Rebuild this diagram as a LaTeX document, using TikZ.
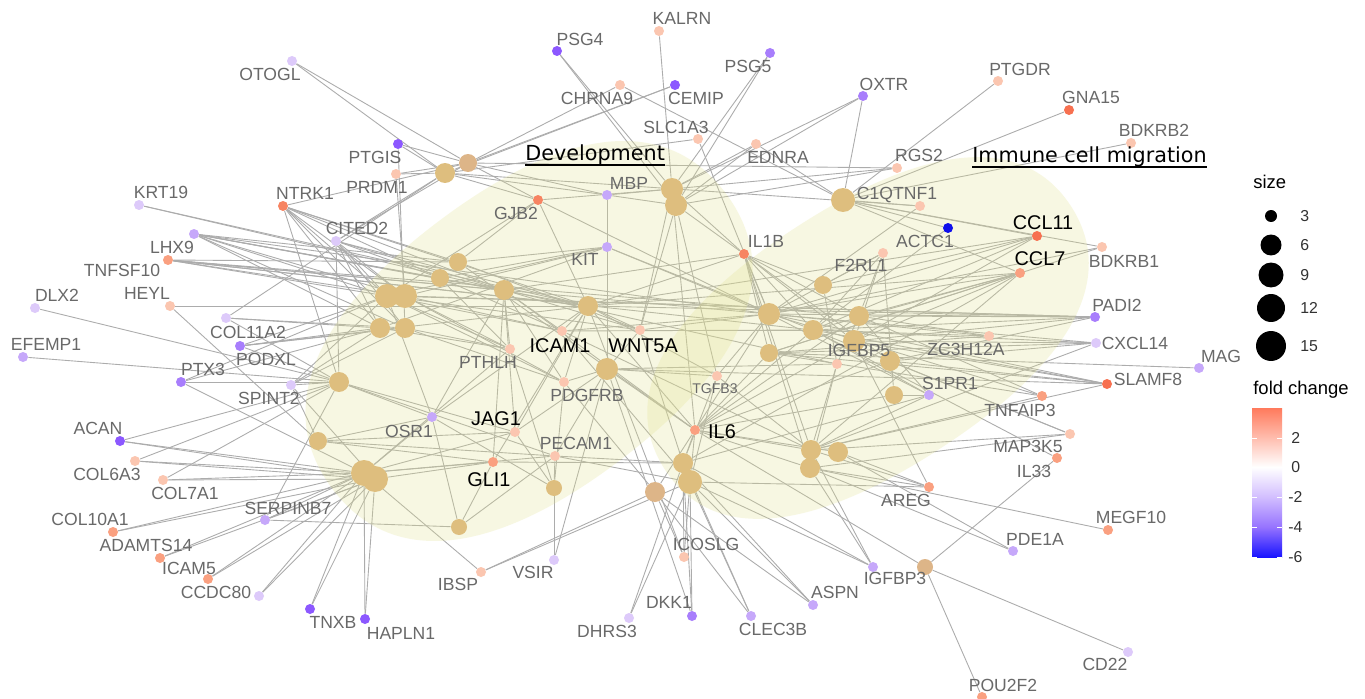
\documentclass[tikz,border=0pt]{standalone}
\usepackage{fontspec}
\setmainfont{Liberation Sans}
\newfontfamily\dejavu{DejaVu Sans}
\pgfdeclarelayer{bglayer}
\pgfdeclarelayer{edgelayer}
\pgfdeclarelayer{regionlayer}
\pgfsetlayers{bglayer,edgelayer,regionlayer,main}
\definecolor{labgray}{RGB}{105,105,105}
\definecolor{edgec}{RGB}{172,172,172}
\definecolor{hubc}{RGB}{222,190,126}
\definecolor{hubd}{RGB}{221,181,136}
\definecolor{regc}{RGB}{225,225,140}
\definecolor{pa}{RGB}{251,198,176}
\definecolor{pb}{RGB}{250,160,128}
\definecolor{pc}{RGB}{247,132,98}
\definecolor{pd}{RGB}{247,112,80}
\definecolor{na}{RGB}{221,202,250}
\definecolor{nb}{RGB}{198,168,250}
\definecolor{nc}{RGB}{168,126,252}
\definecolor{nd}{RGB}{140,88,255}
\definecolor{nf}{RGB}{15,15,235}
\definecolor{barhi}{RGB}{255,122,92}
\definecolor{barm}{RGB}{210,190,255}
\definecolor{barl}{RGB}{150,115,255}
\definecolor{barb}{RGB}{25,20,255}
\definecolor{legtxt}{RGB}{50,50,50}
\newcommand\gn[6]{\node[gnode,fill=#4] (#1) at (#2,#3) {};\node[#6] (l#1) at #5 {#1};}
\newcommand\hb[5]{\node[hub,fill=#5,minimum size=#4cm] (#1) at (#2,#3) {};}
\newcommand\lk[2]{\foreach \hh in {#2} {\draw[edge] (#1) -- (\hh);}}
\newcommand\blob[5]{\fill[region,shift={(#1,#2)},rotate=#3] (#4,0) .. controls (#4,0.65*#5) and (0.65*#4,#5) .. (0,#5) .. controls (-0.65*#4,#5) and (-#4,0.65*#5) .. (-#4,0) .. controls (-#4,-0.65*#5) and (-0.65*#4,-#5) .. (0,-#5) .. controls (0.65*#4,-#5) and (#4,-0.65*#5) .. (#4,0) -- cycle;}
\begin{document}
\begin{tikzpicture}[x=0.02cm,y=-0.02cm,
  gnode/.style={circle,inner sep=0pt,minimum size=0.2cm,draw=none},
  hub/.style={circle,inner sep=0pt,draw=none},
  lab/.style={font=\fontsize{10}{12}\selectfont,text=labgray,inner sep=0pt,text height=7.2pt,text depth=0pt,anchor=center},
  slab/.style={lab,font=\fontsize{8}{10}\selectfont,text height=5.8pt},
  blab/.style={lab,font=\fontsize{11.3}{13}\selectfont,text=black,text height=8.1pt},
  edge/.style={draw=edgec,line width=0.5pt},
  region/.style={fill=regc,fill opacity=0.25,draw=none},
  title/.style={font=\dejavu\fontsize{11.8}{14}\selectfont,text=black,inner sep=0pt,anchor=base west},
  legt/.style={font=\fontsize{10.5}{12}\selectfont,text=black,inner sep=0pt,anchor=base west},
  legn/.style={font=\fontsize{9}{11}\selectfont,text=legtxt,inner sep=0pt,anchor=west,text height=6.5pt,text depth=0pt}]
\useasboundingbox (0,0) rectangle (1365,699);
\begin{pgfonlayer}{bglayer}
\fill[white] (0,0) rectangle (1365,699);
\end{pgfonlayer}
% hubs
\hb{h1}{468}{163}{0.36}{hubd}
\hb{h2}{445}{173}{0.40}{hubc}
\hb{h3}{672}{189}{0.44}{hubc}
\hb{h4}{676}{205}{0.44}{hubc}
\hb{h5}{843}{200}{0.48}{hubc}
\hb{h6}{458}{262}{0.36}{hubc}
\hb{h7}{440}{278}{0.36}{hubc}
\hb{h8}{387}{296}{0.48}{hubc}
\hb{h9}{405}{296}{0.48}{hubc}
\hb{h10}{504}{290}{0.40}{hubc}
\hb{h11}{380}{328}{0.40}{hubc}
\hb{h12}{405}{328}{0.40}{hubc}
\hb{h13}{588}{306}{0.40}{hubc}
\hb{h14}{339}{382}{0.40}{hubc}
\hb{h15}{607}{369}{0.44}{hubc}
\hb{h16}{318}{441}{0.36}{hubc}
\hb{h17}{364}{473}{0.52}{hubc}
\hb{h18}{375}{479}{0.52}{hubc}
\hb{h19}{459}{527}{0.32}{hubc}
\hb{h20}{554}{488}{0.32}{hubc}
\hb{h21}{655}{492}{0.40}{hubd}
\hb{h22}{683}{463}{0.40}{hubc}
\hb{h23}{690}{482}{0.48}{hubc}
\hb{h24}{811}{450}{0.40}{hubc}
\hb{h25}{810}{468}{0.40}{hubc}
\hb{h26}{838}{452}{0.40}{hubc}
\hb{h27}{769}{314}{0.44}{hubc}
\hb{h28}{813}{330}{0.40}{hubc}
\hb{h29}{769}{353}{0.36}{hubc}
\hb{h30}{823}{285}{0.36}{hubc}
\hb{h31}{859}{316}{0.40}{hubc}
\hb{h32}{854}{341}{0.44}{hubc}
\hb{h33}{890}{361}{0.40}{hubc}
\hb{h34}{894}{395}{0.36}{hubc}
\hb{h35}{925}{567}{0.32}{hubd}
% genes
\gn{OTOGL}{292}{61}{na}{(270,74)}{lab}
\gn{PSG4}{557}{51}{nd}{(580,39)}{lab}
\gn{KALRN}{659}{31}{pa}{(682,18)}{lab}
\gn{PSG5}{770}{53}{nc}{(748,66)}{lab}
\gn{CHRNA9}{620}{85}{pa}{(597,98)}{lab}
\gn{CEMIP}{675}{85}{nd}{(696,98)}{lab}
\gn{OXTR}{863}{96}{nc}{(884,84)}{lab}
\gn{PTGDR}{998}{81}{pa}{(1020,69)}{lab}
\gn{GNA15}{1069}{110}{pd}{(1091,97)}{lab}
\gn{BDKRB2}{1131}{143}{pa}{(1154,130)}{lab}
\gn{SLC1A3}{698}{139}{pa}{(676,127)}{lab}
\gn{EDNRA}{756}{144}{pa}{(778,157)}{lab}
\gn{RGS2}{897}{168}{pa}{(919,155)}{lab}
\gn{C1QTNF1}{920}{206}{pa}{(897,193)}{lab}
\gn{ACTC1}{948}{228}{nf}{(925,241)}{lab}
\gn{F2RL1}{883}{253}{pa}{(861,265)}{lab}
\gn{IL1B}{744}{254}{pc}{(766,241)}{lab}
\gn{CCL11}{1037}{236}{pd}{(1043,222)}{blab}
\gn{CCL7}{1020}{273}{pb}{(1040,258)}{blab}
\gn{BDKRB1}{1102}{247}{pa}{(1124,261)}{lab}
\gn{PADI2}{1095}{317}{nc}{(1117,305)}{lab}
\gn{CXCL14}{1096}{343}{na}{(1135,343)}{lab}
\gn{MAG}{1199}{368}{nb}{(1221,356)}{lab}
\gn{SLAMF8}{1107}{384}{pd}{(1148,379)}{lab}
\gn{TNFAIP3}{1042}{396}{pb}{(1020,410)}{lab}
\gn{MAP3K5}{1070}{434}{pa}{(1028,446)}{lab}
\gn{IL33}{1057}{458}{pb}{(1034,471)}{lab}
\gn{MEGF10}{1108}{530}{pb}{(1131,517)}{lab}
\gn{PDE1A}{1013}{551}{nb}{(1035,539)}{lab}
\gn{AREG}{929}{487}{pb}{(906,500)}{lab}
\gn{IGFBP3}{873}{567}{nb}{(895,578)}{lab}
\gn{CD22}{1128}{652}{na}{(1105,664)}{lab}
\gn{POU2F2}{982}{697}{pb}{(1003,685)}{lab}
\gn{ZC3H12A}{989}{336}{pa}{(966,349)}{lab}
\gn{S1PR1}{929}{395}{nb}{(950,383)}{lab}
\gn{IGFBP5}{837}{364}{pa}{(859,350)}{lab}
\gn{TGFB3}{717}{376}{pa}{(715,388)}{slab}
\gn{IL6}{695}{430}{pb}{(722,431)}{blab}
\gn{PDGFRB}{564}{382}{pa}{(587,395)}{lab}
\gn{PTHLH}{510}{349}{pa}{(488,362)}{lab}
\gn{ICAM1}{562}{331}{pa}{(560,345)}{blab}
\gn{WNT5A}{640}{330}{pa}{(643,345)}{blab}
\gn{GJB2}{538}{200}{pc}{(516,213)}{lab}
\gn{MBP}{607}{195}{nb}{(629,183)}{lab}
\gn{KIT}{607}{247}{nb}{(585,259)}{lab}
\gn{PRDM1}{396}{174}{pa}{(377,187)}{lab}
\gn{PTGIS}{398}{144}{nd}{(375,157)}{lab}
\gn{NTRK1}{283}{206}{pc}{(305,193)}{lab}
\gn{CITED2}{336}{241}{na}{(357,228)}{lab}
\gn{KRT19}{139}{205}{na}{(161,192)}{lab}
\gn{LHX9}{194}{234}{nb}{(172,247)}{lab}
\gn{TNFSF10}{168}{260}{pb}{(122,270)}{lab}
\gn{HEYL}{170}{306}{pa}{(147,293)}{lab}
\gn{DLX2}{35}{308}{na}{(57,295)}{lab}
\gn{COL11A2}{226}{318}{na}{(248,332)}{lab}
\gn{EFEMP1}{23}{357}{nb}{(46,344)}{lab}
\gn{PODXL}{240}{346}{nc}{(266,359)}{lab}
\gn{PTX3}{181}{382}{nc}{(203,369)}{lab}
\gn{SPINT2}{291}{385}{na}{(269,398)}{lab}
\gn{ACAN}{120}{441}{nd}{(98,428)}{lab}
\gn{COL6A3}{135}{461}{pa}{(107,474)}{lab}
\gn{COL7A1}{163}{480}{pa}{(185,493)}{lab}
\gn{COL10A1}{113}{532}{pb}{(90,519)}{lab}
\gn{SERPINB7}{265}{520}{nb}{(288,508)}{lab}
\gn{ADAMTS14}{160}{558}{pb}{(146,545)}{lab}
\gn{ICAM5}{208}{579}{pb}{(189,568)}{lab}
\gn{CCDC80}{259}{596}{na}{(216,592)}{lab}
\gn{TNXB}{310}{609}{nd}{(333,622)}{lab}
\gn{HAPLN1}{365}{619}{nd}{(401,633)}{lab}
\gn{OSR1}{432}{417}{nb}{(409,431)}{lab}
\gn{JAG1}{515}{432}{pa}{(496,418)}{blab}
\gn{PECAM1}{555}{456}{pa}{(576,443)}{lab}
\gn{GLI1}{493}{462}{pb}{(489,479)}{blab}
\gn{IBSP}{481}{572}{pa}{(458,584)}{lab}
\gn{VSIR}{554}{560}{na}{(533,572)}{lab}
\gn{ICOSLG}{684}{557}{pa}{(706,544)}{lab}
\gn{DHRS3}{629}{618}{na}{(607,631)}{lab}
\gn{DKK1}{692}{616}{nc}{(669,602)}{lab}
\gn{CLEC3B}{751}{616}{nb}{(773,629)}{lab}
\gn{ASPN}{813}{605}{nb}{(835,592)}{lab}
% edges
\begin{pgfonlayer}{edgelayer}
\lk{OTOGL}{h1,h2}
\lk{PSG4}{h3,h4}
\lk{KALRN}{h3}
\lk{PSG5}{h3,h4}
\lk{CHRNA9}{h5,h1}
\lk{CEMIP}{h1,h2}
\lk{OXTR}{h3,h4,h5}
\lk{PTGDR}{h5}
\lk{GNA15}{h5}
\lk{BDKRB2}{h5}
\lk{SLC1A3}{h2,h27}
\lk{EDNRA}{h3,h4,h5}
\lk{RGS2}{h1,h4,h3}
\lk{C1QTNF1}{h5,h2,h27}
\lk{ACTC1}{h5,h28}
\lk{F2RL1}{h27,h28,h31,h32,h34,h30}
\lk{IL1B}{h3,h4,h10,h13,h27,h28,h29,h31,h32,h24,h25,h33,h30}
\lk{CCL11}{h5,h27,h28,h30,h32,h13}
\lk{CCL7}{h5,h27,h28,h29,h31,h32,h24,h22,h13}
\lk{BDKRB1}{h5,h27,h29}
\lk{PADI2}{h8,h9,h13,h27,h28,h31,h32,h33}
\lk{CXCL14}{h27,h28,h29,h32,h33,h24}
\lk{MAG}{h29}
\lk{SLAMF8}{h27,h28,h29,h32,h33,h15,h24}
\lk{TNFAIP3}{h27,h29,h31,h24}
\lk{MAP3K5}{h28,h24,h25,h33}
\lk{IL33}{h35,h28}
\lk{MEGF10}{h25}
\lk{PDE1A}{h25,h26}
\lk{AREG}{h24,h25,h26,h32,h23}
\lk{IGFBP3}{h23,h24,h25,h22}
\lk{CD22}{h35}
\lk{POU2F2}{h35}
\lk{ZC3H12A}{h27,h28,h31,h29}
\lk{S1PR1}{h27,h28,h31,h24,h22,h34}
\lk{IGFBP5}{h24,h25,h31,h30,h10,h15}
\lk{TGFB3}{h4,h13,h27,h22,h23,h24,h15}
\lk{IL6}{h13,h15,h10,h22,h23,h24,h25,h26,h27,h28,h29,h31,h32,h33,h34,h21,h3,h6,h35}
\lk{PDGFRB}{h10,h13,h15,h8,h9,h12,h20,h21}
\lk{PTHLH}{h8,h9,h11,h12,h17,h10,h20,h7}
\lk{ICAM1}{h8,h9,h13,h10,h27,h28,h24,h23,h7}
\lk{WNT5A}{h13,h15,h3,h4,h10,h8,h22,h27,h28,h6}
\lk{GJB2}{h1,h2,h13,h8,h27,h3,h6}
\lk{MBP}{h1,h2,h15,h3,h4}
\lk{KIT}{h15,h8,h9,h7,h6,h27,h28,h11}
\lk{PRDM1}{h1,h2,h9}
\lk{PTGIS}{h1,h2,h12}
\lk{NTRK1}{h1,h8,h9,h11,h12,h10,h6,h7,h14,h13}
\lk{CITED2}{h1,h2,h8,h9,h11,h12,h13,h10,h14,h7}
\lk{KRT19}{h13,h10}
\lk{LHX9}{h8,h9,h10,h13,h27,h11,h12,h6,h7}
\lk{TNFSF10}{h8,h9,h10,h13,h27,h28,h31,h6}
\lk{HEYL}{h13,h16}
\lk{DLX2}{h14}
\lk{COL11A2}{h2,h11,h12,h14}
\lk{EFEMP1}{h14}
\lk{PODXL}{h8,h11,h14,h12,h13}
\lk{PTX3}{h14,h17,h11,h8}
\lk{SPINT2}{h14,h11,h12,h8,h18,h16}
\lk{ACAN}{h14,h17,h18}
\lk{COL6A3}{h17,h18,h14}
\lk{COL7A1}{h17,h18,h14}
\lk{COL10A1}{h17,h18}
\lk{SERPINB7}{h17,h18,h14,h19}
\lk{ADAMTS14}{h17,h18}
\lk{ICAM5}{h17,h18}
\lk{CCDC80}{h17,h18}
\lk{TNXB}{h17,h18}
\lk{HAPLN1}{h17,h18}
\lk{OSR1}{h14,h16,h17,h10,h13,h20,h8,h19}
\lk{JAG1}{h14,h16,h10,h13,h15,h20,h17}
\lk{PECAM1}{h20,h17,h14,h15,h22,h23,h16,h19}
\lk{GLI1}{h16,h17,h18,h19,h13,h10,h22}
\lk{IBSP}{h17,h21,h23}
\lk{VSIR}{h20,h15}
\lk{ICOSLG}{h22,h23,h21,h13}
\lk{DHRS3}{h22,h23}
\lk{DKK1}{h22,h23,h15}
\lk{CLEC3B}{h21,h23,h22}
\lk{ASPN}{h21,h23,h22}
\end{pgfonlayer}
% regions
\begin{pgfonlayer}{regionlayer}
\blob{529}{341}{37}{246}{150}
\blob{868}{338}{33}{242}{132}
\end{pgfonlayer}
% titles
\node[title] (dev) at (525,161) {Development};
\draw[line width=0.9pt] ([yshift=-2.4pt]dev.base west) -- ([yshift=-2.4pt]dev.base east);
\node[title] (imm) at (972,163) {Immune cell migration};
\draw[line width=0.9pt] ([yshift=-2.4pt]imm.base west) -- ([yshift=-2.4pt]imm.base east);
% legend size
\node[legt] (sz) at (1253,189) {size};
\node[circle,fill=black,inner sep=0pt,minimum size=0.24cm] (s3) at (1271,216) {};
\node[circle,fill=black,inner sep=0pt,minimum size=0.42cm] (s6) at (1271,245) {};
\node[circle,fill=black,inner sep=0pt,minimum size=0.50cm] (s9) at (1271,275) {};
\node[circle,fill=black,inner sep=0pt,minimum size=0.56cm] (s12) at (1271,308) {};
\node[circle,fill=black,inner sep=0pt,minimum size=0.60cm] (s15) at (1271,346) {};
\node[legn] (t3) at (1300,216) {3};
\node[legn] (t6) at (1300,245) {6};
\node[legn] (t9) at (1300,275) {9};
\node[legn] (t12) at (1300,308) {12};
\node[legn] (t15) at (1300,346) {15};
% legend colour
\node[legt] (fc) at (1253,394) {fold change};
\shade[top color=barhi,bottom color=white] (1252,408) rectangle (1282,467);
\shade[top color=white,bottom color=barm] (1252,467) rectangle (1282,497);
\shade[top color=barm,bottom color=barl] (1252,497) rectangle (1282,527);
\shade[top color=barl,bottom color=barb] (1252,527) rectangle (1282,557);
\foreach \yy in {438,467,497,527,557} {
  \draw[white,line width=0.5pt] (1252,\yy) -- (1257,\yy);
  \draw[white,line width=0.5pt] (1277,\yy) -- (1282,\yy);
}
\node[legn] (c2) at (1291,438) {2};
\node[legn] (c0) at (1291,467) {0};
\node[legn] (cm2) at (1288,497) {-2};
\node[legn] (cm4) at (1288,527) {-4};
\node[legn] (cm6) at (1288,557) {-6};
\end{tikzpicture}
\end{document}
